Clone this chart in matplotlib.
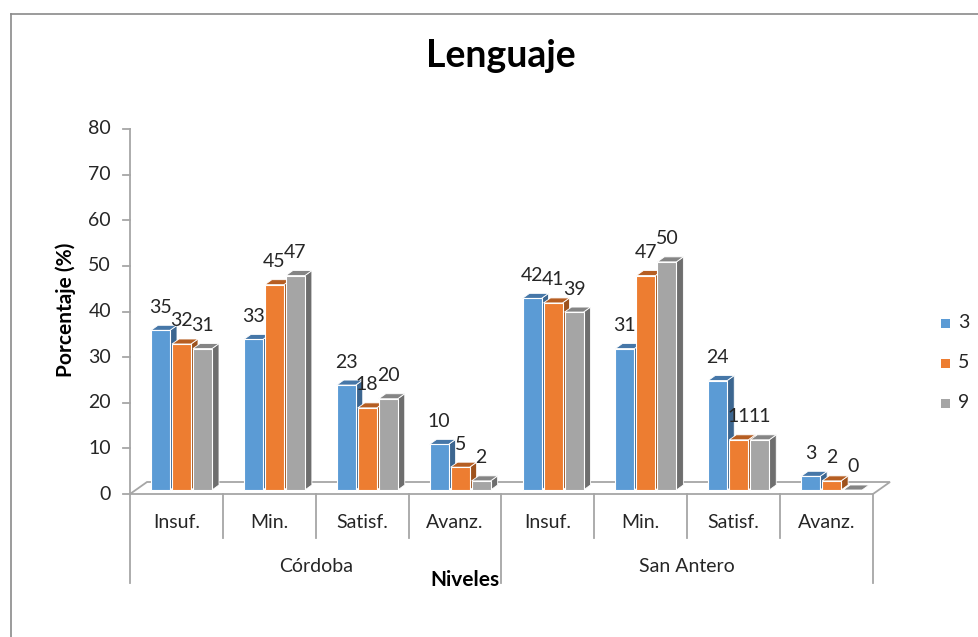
import matplotlib
matplotlib.use("Agg")
import matplotlib.pyplot as plt
from matplotlib.patches import Polygon
from matplotlib.lines import Line2D

plt.rcParams['font.family'] = ['Lato', 'DejaVu Sans']

# Porcentaje de estudiantes por nivel de desempeño, grados 3, 5 y 9
niveles = ['Insuf.', 'Min.', 'Satisf.', 'Avanz.']
regiones = ['Córdoba', 'San Antero']
grados = ['3', '5', '9']
grado3 = [35, 33, 23, 10, 42, 31, 24, 3]
grado5 = [32, 45, 18, 5, 41, 47, 11, 2]
grado9 = [31, 47, 20, 2, 39, 50, 11, 0]
yticks = [0, 10, 20, 30, 40, 50, 60, 70, 80]

front = ['#5B9BD5', '#ED7D31', '#A5A5A5']
top = ['#4677A8', '#B65E22', '#858585']
side = ['#3C6690', '#9E521D', '#6E6E6E']
axis_gray = '#A6A6A6'
text_col = '#262626'
fs = 14

W, H = 979, 637
fig = plt.figure(figsize=(W / 100, H / 100), dpi=100)

# plotting area in pixels: x 130..873, value 0 at y=494, value 80 at y=129
x0, x1, yb, yt = 130, 873, 494, 129
ax = fig.add_axes([x0 / W, 1 - yb / H, (x1 - x0) / W, (yb - yt) / H])
ax.set_xlim(0, 8)
ax.set_ylim(0, 80)
ax.axis('off')
ux = 8 / (x1 - x0)
uy = 80 / (yb - yt)


def fx(px):
    return px / W


def fy(py):
    return 1 - py / H


# floor of the 3D plot
fdx, fdy = 17 * ux, 12 * uy
floor = Polygon([(0, 0), (8, 0), (8 + fdx, fdy), (fdx, fdy)], closed=True,
                facecolor='white', edgecolor=axis_gray, lw=1.3, clip_on=False, zorder=1)
ax.add_patch(floor)

# bars
series = [grado3, grado5, grado9]
bw = 19 * ux
step = 21 * ux
off = 21 * ux
base = 4 * uy
ddx, ddy = 7 * ux, 5 * uy
z = 2
n_cat = len(grado3)
for i in range(n_cat):
    for j, vals in enumerate(series):
        v = vals[i]
        xl = i + off + j * step
        xr = xl + bw
        yt_ = base + v
        side_poly = Polygon([(xr, base), (xr + ddx, base + ddy), (xr + ddx, yt_ + ddy), (xr, yt_)],
                            closed=True, facecolor=side[j], edgecolor='white', lw=0.6,
                            clip_on=False, zorder=z)
        top_poly = Polygon([(xl, yt_), (xr, yt_), (xr + ddx, yt_ + ddy), (xl + ddx, yt_ + ddy)],
                           closed=True, facecolor=top[j], edgecolor='white', lw=0.6,
                           clip_on=False, zorder=z)
        ax.add_patch(side_poly)
        ax.add_patch(top_poly)
        if v > 0:
            ax.bar(xl, v, width=bw, bottom=base, align='edge', color=front[j],
                   edgecolor='white', lw=0.8, clip_on=False, zorder=z + 1)
        ax.annotate(str(v), xy=(xl + bw / 2, yt_), xytext=(0, 23), textcoords='offset pixels',
                    ha='center', va='center', fontsize=fs, color=text_col, zorder=50,
                    annotation_clip=False)
        z += 2

# value axis
ax.plot([0, 0], [0, 80], color=axis_gray, lw=1.3, clip_on=False, zorder=0)
for t in yticks:
    ax.plot([-7 * ux, 0], [t, t], color=axis_gray, lw=1.3, clip_on=False, zorder=0)
    ax.text(-19 * ux, t, str(t), ha='right', va='center', fontsize=fs, color=text_col)

# category axis with two levels
cat_w = (x1 - x0) / 8
for k in range(9):
    px = x0 + k * cat_w
    bottom = 583 if k % 4 == 0 else 538
    fig.add_artist(Line2D([fx(px), fx(px)], [fy(yb), fy(bottom)], color=axis_gray, lw=1.3))
for k in range(n_cat):
    px = x0 + (k + 0.5) * cat_w
    fig.text(fx(px), fy(523), niveles[k % 4], ha='center', va='center', fontsize=fs, color=text_col)
for g, reg in enumerate(regiones):
    px = x0 + (g * 4 + 2) * cat_w
    fig.text(fx(px), fy(566), reg, ha='center', va='center', fontsize=fs, color=text_col)

fig.text(fx(465), fy(580), 'Niveles', ha='center', va='center', fontsize=15,
         fontweight='bold', color='black')
fig.text(fx(66), fy(310), 'Porcentaje (%)', ha='center', va='center', rotation=90,
         fontsize=15, fontweight='bold', color='black')
fig.text(fx(501), fy(56), 'Lenguaje', ha='center', va='center', fontsize=27,
         fontweight='bold', color='black')

# legend
for j, lab in enumerate(grados):
    py = [323, 363, 403][j]
    fig.patches.append(plt.Rectangle((fx(941), fy(py + 5)), 9 / W, 9 / H, transform=fig.transFigure,
                                     facecolor=front[j], edgecolor='none', figure=fig))
    fig.text(fx(958), fy(py), lab, ha='left', va='center', fontsize=fs, color=text_col)

# outer chart frame
fig.add_artist(Line2D([fx(10.5), fx(10.5)], [fy(14), fy(H)], color='#8A8A8A', lw=1.2))
fig.add_artist(Line2D([fx(10.5), fx(W)], [fy(14), fy(14)], color='#8A8A8A', lw=1.2))

fig.savefig('out.png', dpi=100)
